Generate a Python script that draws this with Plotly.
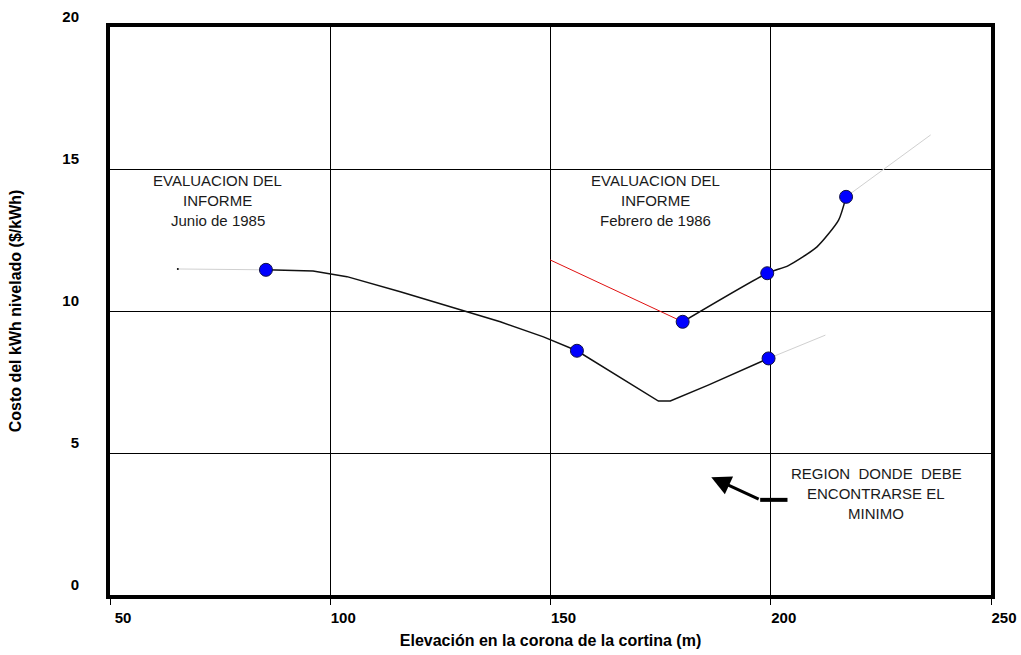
import plotly.graph_objects as go

# ---- data ----
# Junio de 1985 curve (smoothed Excel line) and its evaluated points
jun_curve_x = [85.4, 96.1, 103.8, 115.9, 138.6, 148.4, 156.0, 174.5, 177.2, 185.8, 199.5]
jun_curve_y = [11.45, 11.41, 11.21, 10.68, 9.62, 9.09, 8.60, 6.83, 6.83, 7.39, 8.33]
jun_pts_x = [85.4, 156.0, 199.5]
jun_pts_y = [11.45, 8.60, 8.33]
jun_ext_left_x = [65.4, 85.4]
jun_ext_left_y = [11.48, 11.45]
jun_ext_right_x = [199.5, 212.4]
jun_ext_right_y = [8.33, 9.15]

# Febrero de 1986 curve and its evaluated points
feb_red_x = [149.9, 180.0]
feb_red_y = [11.80, 9.62]
feb_curve_x = [180.0, 199.2, 204.0, 210.5, 215.4, 217.1]
feb_curve_y = [9.62, 11.33, 11.60, 12.26, 13.20, 14.02]
feb_pts_x = [180.0, 199.2, 217.1]
feb_pts_y = [9.62, 11.33, 14.02]
feb_ext_x = [217.1, 236.3]
feb_ext_y = [14.02, 16.20]

x_ticks = [50, 100, 150, 200, 250]
y_ticks = [0, 5, 10, 15, 20]

label_jun = ["EVALUACION DEL", "INFORME", "Junio de 1985"]
label_feb = ["EVALUACION DEL", "INFORME", "Febrero de 1986"]
label_region = ["REGION  DONDE  DEBE", "ENCONTRARSE EL", "MINIMO"]
label_jun_pos = (74.5, 14.61)
label_feb_pos = (173.8, 14.61)
label_region_pos = (223.9, 4.29)
arrow_tip = (186.5, 4.15)
arrow_tail = (197.6, 3.35)
arrow_bar_end_x = 203.8

FONT = "Liberation Sans, Arial, sans-serif"

fig = go.Figure()

# gray extensions
for ex, ey in [(jun_ext_left_x, jun_ext_left_y), (jun_ext_right_x, jun_ext_right_y), (feb_ext_x, feb_ext_y)]:
    fig.add_trace(go.Scatter(x=ex, y=ey, mode="lines",
                             line=dict(color="#d0d0d0", width=1), hoverinfo="skip", showlegend=False))
fig.add_trace(go.Scatter(x=jun_ext_left_x[:1], y=jun_ext_left_y[:1], mode="markers",
                         marker=dict(color="black", size=2), showlegend=False))

fig.add_trace(go.Scatter(x=feb_red_x, y=feb_red_y, mode="lines",
                         line=dict(color="#e01010", width=1), showlegend=False))
fig.add_trace(go.Scatter(x=jun_curve_x, y=jun_curve_y, mode="lines",
                         line=dict(color="#111111", width=1.5), showlegend=False))
fig.add_trace(go.Scatter(x=feb_curve_x, y=feb_curve_y, mode="lines",
                         line=dict(color="#111111", width=1.5, shape="spline", smoothing=0.6),
                         showlegend=False))
fig.add_trace(go.Scatter(x=jun_pts_x + feb_pts_x, y=jun_pts_y + feb_pts_y, mode="markers",
                         marker=dict(color="#0000ff", size=13, line=dict(color="#111144", width=1)),
                         showlegend=False))

# text annotations (one per line, 20 px line pitch)
for lines, (ax_, ay_) in [(label_jun, label_jun_pos), (label_feb, label_feb_pos), (label_region, label_region_pos)]:
    for i, txt in enumerate(lines):
        fig.add_annotation(x=ax_, y=ay_, text=txt, showarrow=False, xanchor="center", yanchor="middle",
                           yshift=-20 * i, font=dict(family=FONT, size=15, color="#1a1a1a"))

# arrow
fig.add_annotation(x=arrow_tip[0], y=arrow_tip[1], ax=arrow_tail[0], ay=arrow_tail[1],
                   axref="x", ayref="y", xref="x", yref="y", text="", showarrow=True,
                   arrowhead=2, arrowsize=1.3, arrowwidth=3, arrowcolor="black")
fig.add_shape(type="line", x0=arrow_tail[0], y0=arrow_tail[1], x1=arrow_bar_end_x, y1=arrow_tail[1],
              line=dict(color="black", width=4))

fig.update_layout(
    width=1021, height=655,
    margin=dict(l=110, r=30, t=27, b=60),
    paper_bgcolor="white", plot_bgcolor="white",
    font=dict(family=FONT, color="black"),
    showlegend=False,
)
fig.update_xaxes(
    range=[50, 250], tickvals=x_ticks, ticktext=[str(v) for v in x_ticks],
    showgrid=True, gridcolor="black", gridwidth=1.2,
    showline=True, linecolor="black", linewidth=4, mirror=True,
    ticks="outside", ticklen=6, tickcolor="black", tickwidth=1,
    ticklabelshift=13, ticklabelstandoff=0,
    tickfont=dict(family=FONT, size=15, color="black", weight="bold"),
    title=dict(text="<b>Elevación en la corona de la cortina (m)</b>",
               font=dict(family=FONT, size=16, color="black"), standoff=11),
    zeroline=False, automargin=False,
)
fig.update_yaxes(
    range=[0, 20], tickvals=y_ticks, ticktext=[str(v) for v in y_ticks],
    showgrid=True, gridcolor="black", gridwidth=1.2,
    showline=True, linecolor="black", linewidth=4, mirror=True,
    ticks="", ticklabelshift=-10, ticklabelstandoff=24,
    tickfont=dict(family=FONT, size=15, color="black", weight="bold"),
    title=dict(text="<b>Costo del kWh nivelado ($/kWh)</b>",
               font=dict(family=FONT, size=16, color="black"), standoff=38),
    zeroline=False, automargin=False,
)

# remove the browser's default 8 px body margin so the figure fills the window exactly
fig.write_html("out.html", config={"displayModeBar": False},
               post_script="document.body.style.margin='0';document.body.style.overflow='hidden';")
